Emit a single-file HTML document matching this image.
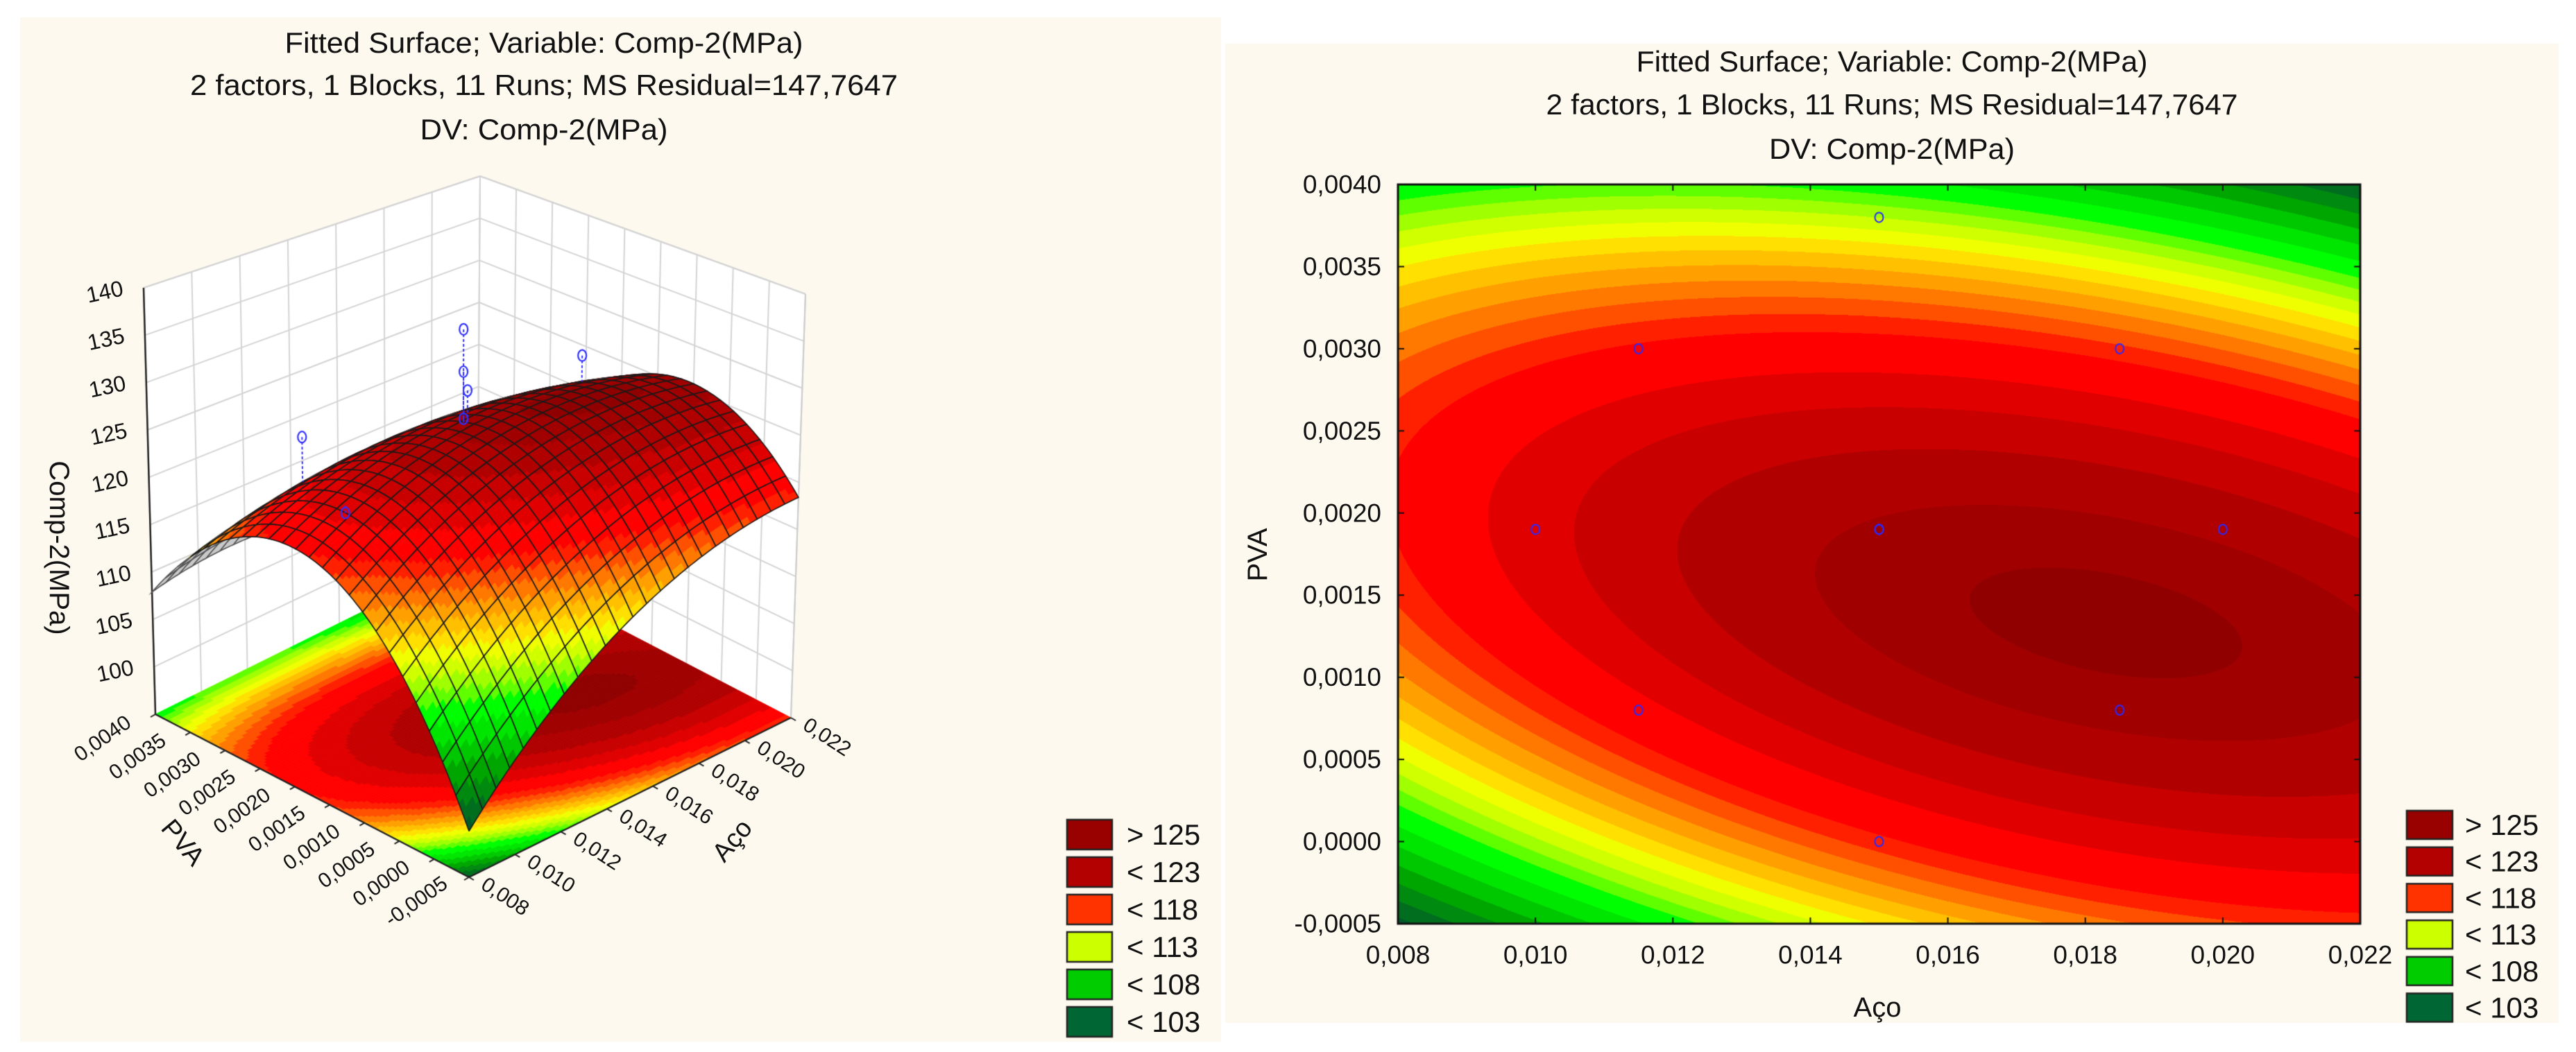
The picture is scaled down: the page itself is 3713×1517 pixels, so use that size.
<!DOCTYPE html>
<html><head><meta charset="utf-8"><style>
html,body{margin:0;padding:0;background:#fff;}
body{width:3713px;height:1517px;position:relative;overflow:hidden;font-family:"Liberation Sans",Arial,sans-serif;}
.panel{position:absolute;background:#fdf9ef;}
canvas,svg{position:absolute;left:0;top:0;}
</style></head><body>
<div class="panel" style="left:29px;top:25px;width:1731px;height:1477px;"></div>
<div class="panel" style="left:1766px;top:63px;width:1922px;height:1412px;"></div>
<canvas id="cv" width="3713" height="1517"></canvas>
<svg id="sv" width="3713" height="1517" xmlns="http://www.w3.org/2000/svg" font-family="Liberation Sans, Arial, sans-serif" fill="#111">
 <g font-size="42" text-anchor="middle">
  <text x="784" y="76" textLength="747" lengthAdjust="spacingAndGlyphs">Fitted Surface; Variable: Comp-2(MPa)</text>
  <text x="784" y="137" textLength="1020" lengthAdjust="spacingAndGlyphs">2 factors, 1 Blocks, 11 Runs; MS Residual=147,7647</text>
  <text x="784" y="201" textLength="357" lengthAdjust="spacingAndGlyphs">DV: Comp-2(MPa)</text>
 </g>
 <g font-size="42" text-anchor="middle">
  <text x="2727" y="103" textLength="737" lengthAdjust="spacingAndGlyphs">Fitted Surface; Variable: Comp-2(MPa)</text>
  <text x="2727" y="165" textLength="997" lengthAdjust="spacingAndGlyphs">2 factors, 1 Blocks, 11 Runs; MS Residual=147,7647</text>
  <text x="2727" y="229" textLength="354" lengthAdjust="spacingAndGlyphs">DV: Comp-2(MPa)</text>
 </g>
 <text font-size="40" text-anchor="middle" transform="translate(72,790) rotate(90)">Comp-2(MPa)</text>
 <text font-size="38" text-anchor="middle" transform="translate(254,1223) rotate(50)">PVA</text>
 <text font-size="38" text-anchor="middle" transform="translate(1065,1220) rotate(-50)">Aço</text>
 <text font-size="40" text-anchor="middle" transform="translate(1826,800) rotate(-90)">PVA</text>
 <text font-size="40" text-anchor="middle" x="2706" y="1466">Aço</text>
 <g id="gtext"></g>
</svg>
<script>
// ---- data ----
const acoTicks = [0.008,0.010,0.012,0.014,0.016,0.018,0.020,0.022];
const pvaTicks = [-0.0005,0.0000,0.0005,0.0010,0.0015,0.0020,0.0025,0.0030,0.0035,0.0040];
const zTicks = [100,105,110,115,120,125,130,135,140];
const coefficients = [125.9, 2.75, -2.5, -4.25, -15.25, -6.75]; // b0, bAco, bPVA, bAco2, bPVA2, bAcoPVA (coded units)
const obsAco = [0.010,0.015,0.015,0.015,0.020,0.0115,0.0185,0.0115,0.0185,0.015,0.015];
const obsPva = [0.0019,0.0019,0.0019,0.0019,0.0019,0.003,0.003,0.0008,0.0008,0.0038,0.0];
const obsComp = [121,135.5,131,126,128,124,122,114,119,108,113];
const legendLabels = ["> 125","< 123","< 118","< 113","< 108","< 103"];
const legendColors = ["#990000","#b30000","#ff3300","#ccff00","#00cc00","#006633"];
const levelLimits = [100,101.5,103,104.5,106,107.5,109,110,111,112,113,114,115,116,117,118,119,121,122.5,124,125.5,126.5];
const levelColors = ["#005a2a","#006e1e","#008a10","#00a600","#00c800","#00e600","#00ff00","#60ff00","#a0ff00","#d0ff00","#f0ff00","#ffe000","#ffc000","#ffa000","#ff7800","#ff5000","#ff2000","#ff0000","#e00000","#c80000","#b00000","#a00000","#900000"];
const acoMin=0.008, acoMax=0.022, pvaMin=-0.0005, pvaMax=0.004, zMin=95, zMax=140;

function fitted(aco,pva){
  const u=(aco-0.015)/0.007, v=(pva-0.00175)/0.00225, c=coefficients;
  return c[0]+c[1]*u+c[2]*v+c[3]*u*u+c[4]*v*v+c[5]*u*v;
}
function colorOf(z){ for(let i=0;i<levelLimits.length;i++) if(z<levelLimits[i]) return levelColors[i]; return levelColors[levelColors.length-1]; }
function hexRGB(h){return [parseInt(h.substr(1,2),16),parseInt(h.substr(3,2),16),parseInt(h.substr(5,2),16)];}

const cv=document.getElementById('cv'), ctx=cv.getContext('2d');
const NS='http://www.w3.org/2000/svg', gt=document.getElementById('gtext');
function txt(x,y,s,size,anchor,tr,name){
  const t=document.createElementNS(NS,'text');
  
  
  t.setAttribute('x',x);t.setAttribute('y',y);t.setAttribute('font-size',size);
  t.setAttribute('text-anchor',anchor);t.setAttribute('dominant-baseline','central');
  if(tr) t.setAttribute('transform',tr);
  t.textContent=s; gt.appendChild(t); return t;
}

// ---- 3D projection ----
const floorC=[[676,1265],[1140,1035],[224,1030],[688,800]]; // front,right,left,back
const topC=[[676,585],[1161,424],[207,415],[692,254]];
function proj(a,b,c){
  const w=[(1-a)*(1-b),a*(1-b),(1-a)*b,a*b];
  let fx=0,fy=0,tx=0,ty=0;
  for(let i=0;i<4;i++){fx+=w[i]*floorC[i][0];fy+=w[i]*floorC[i][1];tx+=w[i]*topC[i][0];ty+=w[i]*topC[i][1];}
  return [fx+c*(tx-fx),fy+c*(ty-fy)];
}
const A=aco=>(aco-acoMin)/(acoMax-acoMin), B=p=>(p-pvaMin)/(pvaMax-pvaMin), C=z=>(z-zMin)/(zMax-zMin);
function P3(aco,pva,z){return proj(A(aco),B(pva),C(z));}
function poly(pts,fill,stroke,lw){ctx.beginPath();ctx.moveTo(pts[0][0],pts[0][1]);for(let i=1;i<pts.length;i++)ctx.lineTo(pts[i][0],pts[i][1]);ctx.closePath();if(fill){ctx.fillStyle=fill;ctx.fill();}if(stroke){ctx.strokeStyle=stroke;ctx.lineWidth=lw||1;ctx.stroke();}}
function line(p,q,col,lw,dash){ctx.beginPath();ctx.setLineDash(dash||[]);ctx.moveTo(p[0],p[1]);ctx.lineTo(q[0],q[1]);ctx.strokeStyle=col;ctx.lineWidth=lw;ctx.stroke();ctx.setLineDash([]);}

// walls
poly([proj(0,1,0),proj(1,1,0),proj(1,1,1),proj(0,1,1)],'#ffffff');
poly([proj(1,1,0),proj(1,0,0),proj(1,0,1),proj(1,1,1)],'#ffffff');
acoTicks.forEach(t=>line(P3(t,pvaMax,zMin),P3(t,pvaMax,zMax),'#d4d4d4',2));
pvaTicks.forEach(t=>line(P3(acoMax,t,zMin),P3(acoMax,t,zMax),'#d4d4d4',2));
zTicks.concat([zMax]).forEach(z=>{line(P3(acoMin,pvaMax,z),P3(acoMax,pvaMax,z),'#d4d4d4',2);line(P3(acoMax,pvaMax,z),P3(acoMax,pvaMin,z),'#d4d4d4',2);});
line(proj(1,0,0),proj(1,0,1),'#cccccc',2);

// floor contour
const NF=110;
for(let i=0;i<NF;i++)for(let j=0;j<NF;j++){
  const a0=i/NF,a1=(i+1)/NF,b0=j/NF,b1=(j+1)/NF;
  const z=fitted(acoMin+(a0+a1)/2*(acoMax-acoMin),pvaMin+(b0+b1)/2*(pvaMax-pvaMin));
  const col=colorOf(z);
  poly([proj(a0,b0,0),proj(a1,b0,0),proj(a1,b1,0),proj(a0,b1,0)],col,col,1);
}
line(proj(0,1,0),proj(0,0,0),'#222',2.5);
line(proj(0,0,0),proj(1,0,0),'#222',2.5);
line(proj(0,1,0),proj(0,1,1),'#222',2.5);
pvaTicks.forEach(t=>{const p=P3(acoMin,t,zMin);line(p,[p[0]-7,p[1]+4],'#222',2);});
acoTicks.forEach(t=>{const p=P3(t,pvaMin,zMin);line(p,[p[0]+7,p[1]+4],'#222',2);});

// tick labels 3D
pvaTicks.forEach(t=>{const p=P3(acoMin,t,zMin);
  txt(p[0]-76,p[1]+35,t.toFixed(4).replace('.',','),30,'middle','rotate(-35 '+(p[0]-76)+' '+(p[1]+35)+')','pva-tick-label-3d');});
acoTicks.forEach(t=>{const p=P3(t,pvaMin,zMin);
  txt(p[0]+52,p[1]+28,t.toFixed(3).replace('.',','),30,'middle','rotate(33 '+(p[0]+52)+' '+(p[1]+28)+')','aco-tick-label-3d');});
zTicks.forEach(z=>{const p=P3(acoMin,pvaMax,z);
  txt(p[0]-30,p[1],String(z),32,'end','rotate(-12 '+(p[0]-30)+' '+p[1]+')','z-tick-label');});

// surface
const NC=24, SUB=4, NS2=NC*SUB;
const cells=[];
for(let i=0;i<NC;i++)for(let j=0;j<NC;j++)cells.push([i,j]);
cells.sort((p,q)=>(q[0]+q[1])-(p[0]+p[1]));
function sp(ii,jj){const a=ii/NS2,b=jj/NS2;const aco=acoMin+a*(acoMax-acoMin),pva=pvaMin+b*(pvaMax-pvaMin);return proj(a,b,C(fitted(aco,pva)));}
function area(q){let s=0;for(let k=0;k<4;k++){const p=q[k],r=q[(k+1)%4];s+=p[0]*r[1]-r[0]*p[1];}return s;}
cells.forEach(([ci,cj])=>{
  const subs=[];
  for(let si=0;si<SUB;si++)for(let sj=0;sj<SUB;sj++)subs.push([ci*SUB+si,cj*SUB+sj]);
  subs.sort((p,q)=>(q[0]+q[1])-(p[0]+p[1]));
  let back=false;
  subs.forEach(([ii,jj])=>{
    const q=[sp(ii,jj),sp(ii+1,jj),sp(ii+1,jj+1),sp(ii,jj+1)];
    const z=fitted(acoMin+(ii+0.5)/NS2*(acoMax-acoMin),pvaMin+(jj+0.5)/NS2*(pvaMax-pvaMin));
    let col;
    if(area(q)>0){col='#c9c9c9';back=true;} else col=colorOf(z);
    poly(q,col,col,1);
  });
  const i0=ci*SUB,j0=cj*SUB,i1=i0+SUB,j1=j0+SUB;
  ctx.beginPath();
  let p=sp(i0,j0);ctx.moveTo(p[0],p[1]);
  for(let k=1;k<=SUB;k++){p=sp(i0+k,j0);ctx.lineTo(p[0],p[1]);}
  for(let k=1;k<=SUB;k++){p=sp(i1,j0+k);ctx.lineTo(p[0],p[1]);}
  for(let k=1;k<=SUB;k++){p=sp(i1-k,j1);ctx.lineTo(p[0],p[1]);}
  for(let k=1;k<=SUB;k++){p=sp(i0,j1-k);ctx.lineTo(p[0],p[1]);}
  ctx.strokeStyle=back?'#555':'#1a1a1a';ctx.lineWidth=1.6;ctx.stroke();
});

// observed points 3D
for(let k=0;k<obsAco.length;k++){
  const f=fitted(obsAco[k],obsPva[k]);
  if(obsComp[k]<f-1) continue;
  const p=P3(obsAco[k],obsPva[k],obsComp[k]), s=P3(obsAco[k],obsPva[k],f);
  line(p,s,'#3030ff',2,[4,3]);
  ctx.beginPath();ctx.ellipse(p[0],p[1],6,8,0,0,Math.PI*2);ctx.strokeStyle='#3030ff';ctx.lineWidth=2.2;ctx.stroke();
}

// ---- contour plot ----
const X0=2015,X1=3402,Y0=266,Y1=1332;
const xs=v=>X0+(v-acoMin)/(acoMax-acoMin)*(X1-X0), ys=v=>Y1-(v-pvaMin)/(pvaMax-pvaMin)*(Y1-Y0);
const img=ctx.createImageData(X1-X0,Y1-Y0);
const rgbCache=levelColors.map(hexRGB);
for(let y=0;y<Y1-Y0;y++){
  const pva=pvaMax-(y+0.5)/(Y1-Y0)*(pvaMax-pvaMin);
  for(let x=0;x<X1-X0;x++){
    const aco=acoMin+(x+0.5)/(X1-X0)*(acoMax-acoMin);
    const z=fitted(aco,pva);
    let idx=levelLimits.length;for(let i=0;i<levelLimits.length;i++)if(z<levelLimits[i]){idx=i;break;}
    const c=rgbCache[idx],o=(y*(X1-X0)+x)*4;
    img.data[o]=c[0];img.data[o+1]=c[1];img.data[o+2]=c[2];img.data[o+3]=255;
  }
}
ctx.putImageData(img,X0,Y0);
ctx.strokeStyle='#111';ctx.lineWidth=3;ctx.strokeRect(X0,Y0,X1-X0,Y1-Y0);
acoTicks.forEach(t=>{line([xs(t),Y1],[xs(t),Y1-9],'#111',2);line([xs(t),Y0],[xs(t),Y0+9],'#111',2);
  txt(xs(t),1377,t.toFixed(3).replace('.',','),37,'middle',null,'aco-tick-label');});
pvaTicks.forEach(t=>{line([X0,ys(t)],[X0+9,ys(t)],'#111',2);line([X1,ys(t)],[X1-9,ys(t)],'#111',2);
  txt(1991,ys(t),t.toFixed(4).replace('.',','),37,'end',null,'pva-tick-label');});
for(let k=0;k<obsAco.length;k++){
  ctx.beginPath();ctx.ellipse(xs(obsAco[k]),ys(obsPva[k]),6,7,0,0,Math.PI*2);ctx.strokeStyle='#2a2aff';ctx.lineWidth=2;ctx.stroke();
}

// ---- legends ----
function legend(x,y0,pitch,w,h,tx,name){
  legendLabels.forEach((l,i)=>{
    const y=y0+i*pitch;
    ctx.fillStyle=legendColors[i];ctx.fillRect(x,y,w,h);ctx.strokeStyle='#222';ctx.lineWidth=2.5;ctx.strokeRect(x,y,w,h);
    txt(tx,y+h/2,l,42,'start',null,name);
  });
}
legend(1538,1182,54,65,43,1624,'surface-legend-entry');
legend(3469,1169,52.7,66,41,3553,'contour-legend-entry');
</script>
</body></html>
